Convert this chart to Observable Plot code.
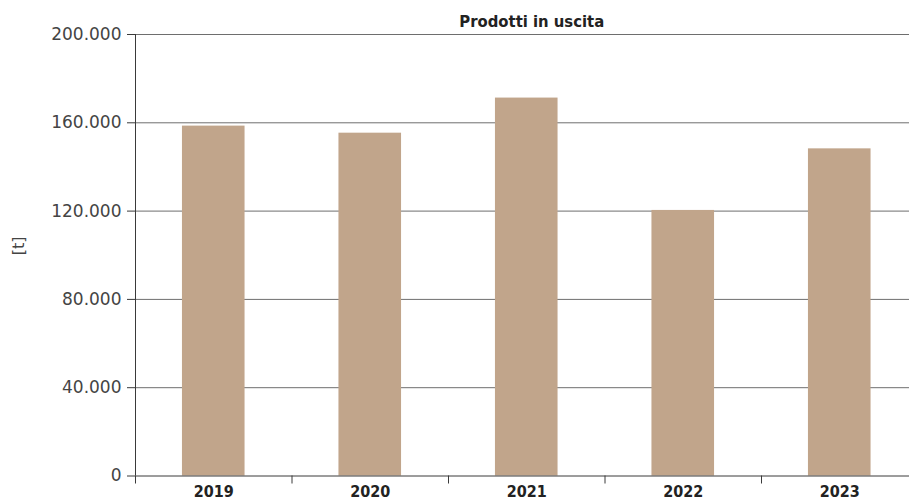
<!DOCTYPE html>
<html><head><meta charset="utf-8">
<script src="https://cdn.jsdelivr.net/npm/d3@7"></script>
<script src="https://cdn.jsdelivr.net/npm/@observablehq/plot@0.6"></script>
<style>html,body{margin:0;padding:0;background:#fff;overflow:hidden}</style>
</head><body><div id="chart"></div>
<script>
const years = [2019, 2020, 2021, 2022, 2023];
const values = [158500, 155300, 171200, 120300, 148200];
const yTicks = [0, 40000, 80000, 120000, 160000, 200000];
const title = "Prodotti in uscita";
const yLabel = "[t]";

const data = years.map((year, i) => ({year, value: values[i]}));
const boundaries = [...years.map(y => y - 0.5), years[years.length - 1] + 0.5];
const fmt = d3.formatLocale({decimal: ",", thousands: ".", grouping: [3], currency: ["", ""]}).format(",");

const chart = Plot.plot({
  width: 909, height: 504,
  marginLeft: 135, marginRight: -8.5, marginTop: 34, marginBottom: 28.5,
  style: {fontFamily: "DejaVu Sans", background: "#fff"},
  x: {domain: [boundaries[0], boundaries[boundaries.length - 1]], label: null},
  y: {domain: [0, 200000], label: null},
  marks: [
    Plot.ruleY(yTicks.slice(1), {stroke: "#6e6e6e", strokeWidth: 1}),
    Plot.rectY(data, {x1: d => d.year - 0.2, x2: d => d.year + 0.2, y: "value", fill: "#c1a58b"}),
    Plot.ruleY([0], {stroke: "#3a3a3a", strokeWidth: 1}),
    Plot.ruleX([boundaries[0]], {stroke: "#3a3a3a", strokeWidth: 1}),
    Plot.axisY(yTicks, {tickSize: 8, tickPadding: 6, tickFormat: fmt, fontSize: 17, color: "#444", stroke: "#3a3a3a"}),
    Plot.axisX(boundaries, {tickSize: 8, tickFormat: () => "", stroke: "#3a3a3a"}),
    Plot.axisX(years, {tickSize: 0, tickPadding: 10, tickFormat: d => String(d), fontSize: 16, fontWeight: "bold", fontFamily: "DejaVu Sans Condensed", fill: "#222"}),
    Plot.text([yLabel], {frameAnchor: "left", dx: -117, rotate: -90, fontSize: 16, fill: "#444"}),
    Plot.text([title], {frameAnchor: "top", dx: 5, dy: -8, lineAnchor: "bottom", fontSize: 16.5, fontWeight: "bold", fontFamily: "DejaVu Sans Condensed", fill: "#222"})
  ]
});
document.getElementById("chart").append(chart);
</script>
</body></html>
